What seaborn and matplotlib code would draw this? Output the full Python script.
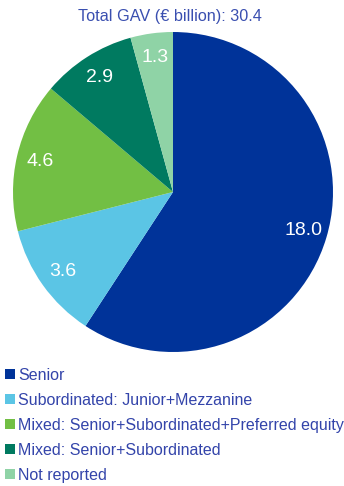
import matplotlib
matplotlib.use("Agg")
import matplotlib.pyplot as plt
from matplotlib.patches import Patch
import seaborn as sns

categories = [
    "Senior",
    "Subordinated: Junior+Mezzanine",
    "Mixed: Senior+Subordinated+Preferred equity",
    "Mixed: Senior+Subordinated",
    "Not reported",
]
values = [18.0, 3.6, 4.6, 2.9, 1.3]
total_gav = 30.4
colors = ["#003399", "#5BC5E5", "#72BF44", "#007A60", "#8FD3A6"]

sns.set_style("white")
plt.rcParams["font.family"] = ["Liberation Sans", "DejaVu Sans"]

W, H = 344, 486
fig = plt.figure(figsize=(W / 100, H / 100), dpi=100)

# pie area in pixel coordinates: centre (173, 192), radius 160
cx, cy, r = 173, 192, 160
ax = fig.add_axes([(cx - r) / W, (H - cy - r) / H, 2 * r / W, 2 * r / H])
palette = sns.color_palette(colors)
wedges, texts = ax.pie(
    values,
    colors=palette,
    startangle=90,
    counterclock=False,
    labels=[f"{v:.1f}" for v in values],
    labeldistance=0.85,
    textprops=dict(color="white", fontsize=14),
    wedgeprops=dict(linewidth=0),
)
for t in texts:
    t.set_horizontalalignment("center")
    t.set_verticalalignment("center")
ax.set_xlim(-1, 1)
ax.set_ylim(-1, 1)
ax.set_aspect("equal")
ax.axis("off")

fig.text(170 / W, 1 - 17 / H, f"Total GAV (€ billion): {total_gav}",
         ha="center", va="center", color="#3A4FB0", fontsize=11.7)

handles = [Patch(facecolor=c, edgecolor="none") for c in palette]
fig.legend(handles, categories, loc="upper left",
           bbox_to_anchor=(5 / W, 1 - 368 / H), frameon=False,
           fontsize=11.5, labelcolor="#3344AA", handlelength=0.62,
           handleheight=0.6, handletextpad=0.18, labelspacing=0.62,
           borderpad=0, borderaxespad=0)

fig.savefig("out.png", dpi=100)
